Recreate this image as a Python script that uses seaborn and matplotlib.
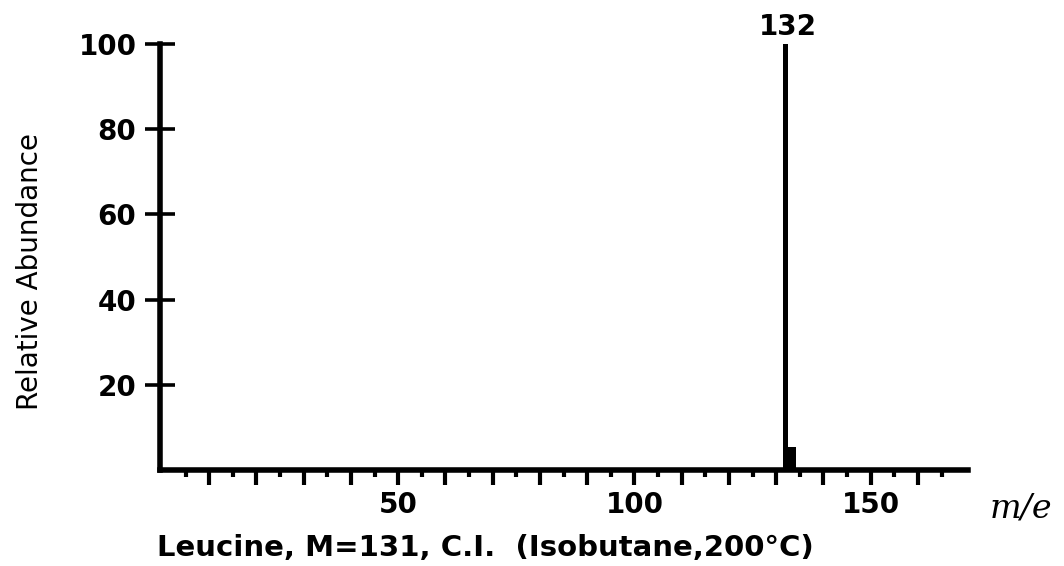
import matplotlib
matplotlib.use("Agg")
import matplotlib.pyplot as plt
import seaborn as sns
import pandas as pd
from matplotlib.ticker import FixedLocator, FuncFormatter

# ---- data ----
mz = [132, 133]
abundance = [100, 5.5]
peak_label = "132"
x_tick_labels = [50, 100, 150]
y_ticks = [20, 40, 60, 80, 100]
caption = "Leucine, M=131, C.I.  (Isobutane,200°C)"
y_label = "Relative Abundance"
x_label = "m/e"

sns.set_theme(style="white", rc={"text.color": "black", "xtick.color": "black",
                                 "ytick.color": "black", "axes.labelcolor": "black"})
plt.rcParams["font.family"] = ["DejaVu Sans"]

df = pd.DataFrame({"mz": mz, "abundance": abundance})

fig = plt.figure(figsize=(10.64, 5.66), dpi=100)
ax = fig.add_axes([160/1064, 1-470/566, (968-160)/1064, (470-44)/566])

# base peak drawn as a thin line, isotope peak as a wider block
sns.barplot(data=df[df["abundance"] >= 50], x="mz", y="abundance", native_scale=True,
            width=1.2, color="black", errorbar=None, ax=ax, saturation=1, linewidth=0)
sns.barplot(data=df[df["abundance"] < 50], x="mz", y="abundance", native_scale=True,
            width=2.4, color="black", errorbar=None, ax=ax, saturation=1, linewidth=0)

ax.set_xlim(-0.42, 170.6)
ax.set_ylim(0, 100)

for s in ["top", "right"]:
    ax.spines[s].set_visible(False)
for s in ["left", "bottom"]:
    ax.spines[s].set_color("black")
    ax.spines[s].set_linewidth(4)
    ax.spines[s].set_capstyle("projecting")

ax.set_yticks(y_ticks)
ax.tick_params(axis="y", which="major", direction="inout", length=22, width=2.6,
               color="black", pad=6, labelsize=20, left=True, labelcolor="black")
for t in ax.get_yticklabels():
    t.set_fontweight("bold")

ax.xaxis.set_major_locator(FixedLocator(list(range(10, 170, 10))))
ax.xaxis.set_minor_locator(FixedLocator(list(range(5, 170, 10))))
ax.xaxis.set_major_formatter(FuncFormatter(lambda v, p: str(int(v)) if int(v) in x_tick_labels else ""))
ax.tick_params(axis="x", which="major", direction="out", length=11, width=3,
               color="black", pad=4, labelsize=20, bottom=True, labelcolor="black")
ax.tick_params(axis="x", which="minor", direction="out", length=5, width=3,
               color="black", bottom=True)
for t in ax.get_xticklabels():
    t.set_fontweight("bold")

ax.set_xlabel("")
ax.set_ylabel("")

ax.text(132.4, 104.0, peak_label, ha="center", va="center", fontsize=20,
        fontweight="bold", clip_on=False)

fig.text(30/1064, 1-272/566, y_label, rotation=90, ha="center", va="center",
         fontsize=20)
fig.text(1021/1064, 1-509/566, x_label, ha="center", va="center", fontsize=24,
         family="DejaVu Serif", style="italic")
fig.text(485/1064, 1-548/566, caption, ha="center", va="center", fontsize=21,
         fontweight="bold")

fig.savefig("out.png", dpi=100, facecolor="white")
